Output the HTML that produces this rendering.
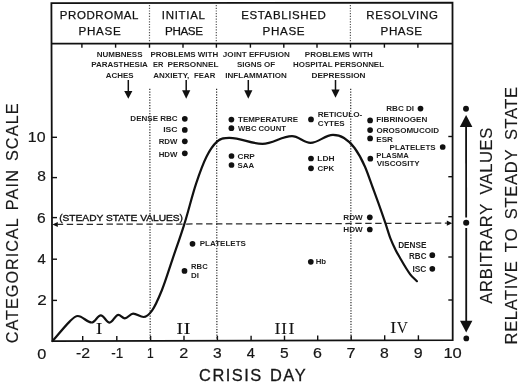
<!DOCTYPE html>
<html><head><meta charset="utf-8"><style>
html,body{margin:0;padding:0;background:#fff;}
body{width:520px;height:384px;overflow:hidden;font-family:"Liberation Sans",sans-serif;}
svg{display:block;will-change:transform;}
</style></head><body>
<svg width="520" height="384" viewBox="0 0 520 384">
<path d="M52.3,341.2 L51.4,3.1 L452.5,2.6 L452.7,340.2 Z" fill="none" stroke="#111" stroke-width="1.8"/>
<line x1="51.5" y1="43.7" x2="452.6" y2="43.6" stroke="#111" stroke-width="1.8" />
<line x1="81.9" y1="43.7" x2="81.9" y2="47.7" stroke="#111" stroke-width="1.4" />
<line x1="82.7" y1="341.12399999999997" x2="82.7" y2="336.12399999999997" stroke="#111" stroke-width="1.4" />
<line x1="115.6" y1="43.7" x2="115.6" y2="47.7" stroke="#111" stroke-width="1.4" />
<line x1="116.8" y1="341.03875" x2="116.8" y2="336.03875" stroke="#111" stroke-width="1.4" />
<line x1="149.5" y1="43.7" x2="149.5" y2="47.7" stroke="#111" stroke-width="1.4" />
<line x1="150.6" y1="340.95425" x2="150.6" y2="335.95425" stroke="#111" stroke-width="1.4" />
<line x1="183.0" y1="43.7" x2="183.0" y2="47.7" stroke="#111" stroke-width="1.4" />
<line x1="184.0" y1="340.87075" x2="184.0" y2="335.87075" stroke="#111" stroke-width="1.4" />
<line x1="216.4" y1="43.7" x2="216.4" y2="47.7" stroke="#111" stroke-width="1.4" />
<line x1="217.4" y1="340.78725" x2="217.4" y2="335.78725" stroke="#111" stroke-width="1.4" />
<line x1="250.4" y1="43.7" x2="250.4" y2="47.7" stroke="#111" stroke-width="1.4" />
<line x1="251.1" y1="340.703" x2="251.1" y2="335.703" stroke="#111" stroke-width="1.4" />
<line x1="283.8" y1="43.7" x2="283.8" y2="47.7" stroke="#111" stroke-width="1.4" />
<line x1="284.5" y1="340.6195" x2="284.5" y2="335.6195" stroke="#111" stroke-width="1.4" />
<line x1="317.0" y1="43.7" x2="317.0" y2="47.7" stroke="#111" stroke-width="1.4" />
<line x1="317.7" y1="340.5365" x2="317.7" y2="335.5365" stroke="#111" stroke-width="1.4" />
<line x1="350.5" y1="43.7" x2="350.5" y2="47.7" stroke="#111" stroke-width="1.4" />
<line x1="351.2" y1="340.45275" x2="351.2" y2="335.45275" stroke="#111" stroke-width="1.4" />
<line x1="384.4" y1="43.7" x2="384.4" y2="47.7" stroke="#111" stroke-width="1.4" />
<line x1="384.7" y1="340.36899999999997" x2="384.7" y2="335.36899999999997" stroke="#111" stroke-width="1.4" />
<line x1="417.9" y1="43.7" x2="417.9" y2="47.7" stroke="#111" stroke-width="1.4" />
<line x1="418.4" y1="340.28475" x2="418.4" y2="335.28475" stroke="#111" stroke-width="1.4" />
<line x1="52.0" y1="137.3" x2="57.0" y2="137.3" stroke="#111" stroke-width="1.4" />
<line x1="52.0" y1="177.6" x2="57.0" y2="177.6" stroke="#111" stroke-width="1.4" />
<line x1="52.0" y1="217.6" x2="57.0" y2="217.6" stroke="#111" stroke-width="1.4" />
<line x1="52.0" y1="259.2" x2="57.0" y2="259.2" stroke="#111" stroke-width="1.4" />
<line x1="52.0" y1="300.4" x2="57.0" y2="300.4" stroke="#111" stroke-width="1.4" />
<line x1="452.8" y1="136.5" x2="448.3" y2="136.5" stroke="#111" stroke-width="1.4" />
<line x1="452.8" y1="176.7" x2="448.3" y2="176.7" stroke="#111" stroke-width="1.4" />
<line x1="452.8" y1="216.7" x2="448.3" y2="216.7" stroke="#111" stroke-width="1.4" />
<line x1="452.8" y1="257.0" x2="448.3" y2="257.0" stroke="#111" stroke-width="1.4" />
<line x1="452.8" y1="300.0" x2="448.3" y2="300.0" stroke="#111" stroke-width="1.4" />
<line x1="149.5" y1="5.0" x2="149.5" y2="41.5" stroke="#555" stroke-width="1.2" stroke-dasharray="1.2 1.5"/>
<line x1="149.8" y1="88.8" x2="150.2" y2="340" stroke="#2a2a2a" stroke-width="1.2" stroke-dasharray="1.2 1.5"/>
<line x1="216.3" y1="5.0" x2="216.3" y2="41.5" stroke="#555" stroke-width="1.2" stroke-dasharray="1.2 1.5"/>
<line x1="216.60000000000002" y1="88.8" x2="216.9" y2="340" stroke="#2a2a2a" stroke-width="1.2" stroke-dasharray="1.2 1.5"/>
<line x1="350.4" y1="5.0" x2="350.4" y2="41.5" stroke="#555" stroke-width="1.2" stroke-dasharray="1.2 1.5"/>
<line x1="350.7" y1="88.8" x2="351.0" y2="340" stroke="#2a2a2a" stroke-width="1.2" stroke-dasharray="1.2 1.5"/>
<text x="59.80" y="19.40" font-family="Liberation Sans" font-weight="normal" font-size="11.48" textLength="78.61" lengthAdjust="spacing" fill="#111" stroke="#111" stroke-width="0.25" >PRODROMAL</text>
<text x="78.58" y="35.00" font-family="Liberation Sans" font-weight="normal" font-size="11.63" textLength="42.14" lengthAdjust="spacing" fill="#111" stroke="#111" stroke-width="0.25" >PHASE</text>
<text x="161.83" y="19.40" font-family="Liberation Sans" font-weight="normal" font-size="11.48" textLength="43.08" lengthAdjust="spacing" fill="#111" stroke="#111" stroke-width="0.25" >INITIAL</text>
<text x="165.08" y="35.00" font-family="Liberation Sans" font-weight="normal" font-size="11.63" textLength="37.89" lengthAdjust="spacing" fill="#111" stroke="#111" stroke-width="0.25" >PHASE</text>
<text x="241.18" y="19.40" font-family="Liberation Sans" font-weight="normal" font-size="11.48" textLength="84.70" lengthAdjust="spacing" fill="#111" stroke="#111" stroke-width="0.25" >ESTABLISHED</text>
<text x="262.59" y="35.00" font-family="Liberation Sans" font-weight="normal" font-size="11.63" textLength="41.94" lengthAdjust="spacing" fill="#111" stroke="#111" stroke-width="0.25" >PHASE</text>
<text x="366.18" y="19.40" font-family="Liberation Sans" font-weight="normal" font-size="11.48" textLength="71.74" lengthAdjust="spacing" fill="#111" stroke="#111" stroke-width="0.25" >RESOLVING</text>
<text x="380.60" y="35.00" font-family="Liberation Sans" font-weight="normal" font-size="11.63" textLength="41.52" lengthAdjust="spacing" fill="#111" stroke="#111" stroke-width="0.25" >PHASE</text>
<text x="96.67" y="57.10" font-family="Liberation Sans" font-weight="bold" font-size="7.70" textLength="45.84" lengthAdjust="spacingAndGlyphs" fill="#1e1e1e"  >NUMBNESS</text>
<text x="91.17" y="67.40" font-family="Liberation Sans" font-weight="bold" font-size="7.41" textLength="56.74" lengthAdjust="spacingAndGlyphs" fill="#1e1e1e"  >PARASTHESIA</text>
<text x="105.81" y="77.50" font-family="Liberation Sans" font-weight="bold" font-size="7.56" textLength="27.80" lengthAdjust="spacingAndGlyphs" fill="#1e1e1e"  >ACHES</text>
<text x="150.47" y="57.10" font-family="Liberation Sans" font-weight="bold" font-size="7.70" textLength="67.66" lengthAdjust="spacingAndGlyphs" fill="#1e1e1e"  >PROBLEMS WITH</text>
<text x="153.01" y="67.40" font-family="Liberation Sans" font-weight="bold" font-size="7.41" textLength="10.34" lengthAdjust="spacingAndGlyphs" fill="#1e1e1e"  >ER</text>
<text x="167.46" y="67.40" font-family="Liberation Sans" font-weight="bold" font-size="7.41" textLength="51.09" lengthAdjust="spacingAndGlyphs" fill="#1e1e1e"  >PERSONNEL</text>
<text x="153.31" y="77.50" font-family="Liberation Sans" font-weight="bold" font-size="7.56" textLength="36.03" lengthAdjust="spacingAndGlyphs" fill="#1e1e1e"  >ANXIETY,</text>
<text x="194.09" y="77.50" font-family="Liberation Sans" font-weight="bold" font-size="7.56" textLength="21.17" lengthAdjust="spacingAndGlyphs" fill="#1e1e1e"  >FEAR</text>
<text x="222.88" y="57.10" font-family="Liberation Sans" font-weight="bold" font-size="7.70" textLength="66.87" lengthAdjust="spacingAndGlyphs" fill="#1e1e1e"  >JOINT EFFUSION</text>
<text x="236.98" y="67.40" font-family="Liberation Sans" font-weight="bold" font-size="7.41" textLength="38.21" lengthAdjust="spacingAndGlyphs" fill="#1e1e1e"  >SIGNS OF</text>
<text x="225.27" y="77.50" font-family="Liberation Sans" font-weight="bold" font-size="7.56" textLength="61.58" lengthAdjust="spacingAndGlyphs" fill="#1e1e1e"  >INFLAMMATION</text>
<text x="304.87" y="57.10" font-family="Liberation Sans" font-weight="bold" font-size="7.70" textLength="67.97" lengthAdjust="spacingAndGlyphs" fill="#1e1e1e"  >PROBLEMS WITH</text>
<text x="292.98" y="67.40" font-family="Liberation Sans" font-weight="bold" font-size="7.41" textLength="91.06" lengthAdjust="spacingAndGlyphs" fill="#1e1e1e"  >HOSPITAL PERSONNEL</text>
<text x="311.56" y="77.50" font-family="Liberation Sans" font-weight="bold" font-size="7.56" textLength="54.00" lengthAdjust="spacingAndGlyphs" fill="#1e1e1e"  >DEPRESSION</text>
<line x1="128.3" y1="80.0" x2="128.3" y2="91.9" stroke="#111" stroke-width="1.5" />
<polygon points="124.20000000000002,90.9 132.4,90.9 128.3,98.8" fill="#111"/>
<line x1="186.2" y1="80.0" x2="186.2" y2="91.2" stroke="#111" stroke-width="1.5" />
<polygon points="182.1,90.2 190.29999999999998,90.2 186.2,98.7" fill="#111"/>
<line x1="248.3" y1="80.0" x2="248.3" y2="91.2" stroke="#111" stroke-width="1.5" />
<polygon points="244.20000000000002,90.2 252.4,90.2 248.3,98.7" fill="#111"/>
<line x1="335.5" y1="80.0" x2="335.5" y2="90.4" stroke="#111" stroke-width="1.5" />
<polygon points="331.4,89.4 339.6,89.4 335.5,97.8" fill="#111"/>
<text x="130.37" y="121.40" font-family="Liberation Sans" font-weight="bold" font-size="7.56" textLength="47.24" lengthAdjust="spacingAndGlyphs" fill="#1e1e1e"  >DENSE RBC</text>
<circle cx="184.8" cy="118.8" r="2.85" fill="#111"/>
<text x="163.23" y="131.90" font-family="Liberation Sans" font-weight="bold" font-size="7.70" textLength="14.40" lengthAdjust="spacingAndGlyphs" fill="#1e1e1e"  >ISC</text>
<circle cx="184.8" cy="129.9" r="2.85" fill="#111"/>
<text x="158.68" y="144.10" font-family="Liberation Sans" font-weight="bold" font-size="7.56" textLength="18.73" lengthAdjust="spacingAndGlyphs" fill="#1e1e1e"  >RDW</text>
<circle cx="184.8" cy="141.3" r="2.85" fill="#111"/>
<text x="158.68" y="156.70" font-family="Liberation Sans" font-weight="bold" font-size="7.70" textLength="18.73" lengthAdjust="spacingAndGlyphs" fill="#1e1e1e"  >HDW</text>
<circle cx="184.8" cy="153.3" r="2.85" fill="#111"/>
<text x="238.01" y="122.10" font-family="Liberation Sans" font-weight="bold" font-size="7.70" textLength="60.20" lengthAdjust="spacingAndGlyphs" fill="#1e1e1e"  >TEMPERATURE</text>
<circle cx="231.4" cy="119.6" r="2.85" fill="#111"/>
<text x="238.09" y="130.60" font-family="Liberation Sans" font-weight="bold" font-size="7.56" textLength="47.79" lengthAdjust="spacingAndGlyphs" fill="#1e1e1e"  >WBC COUNT</text>
<circle cx="231.4" cy="128.2" r="2.85" fill="#111"/>
<text x="237.46" y="158.50" font-family="Liberation Sans" font-weight="bold" font-size="7.41" textLength="17.42" lengthAdjust="spacingAndGlyphs" fill="#1e1e1e"  >CRP</text>
<circle cx="231.5" cy="156.0" r="2.85" fill="#111"/>
<text x="237.58" y="167.50" font-family="Liberation Sans" font-weight="bold" font-size="7.41" textLength="16.63" lengthAdjust="spacingAndGlyphs" fill="#1e1e1e"  >SAA</text>
<circle cx="231.5" cy="165.0" r="2.85" fill="#111"/>
<text x="317.66" y="117.10" font-family="Liberation Sans" font-weight="bold" font-size="6.98" textLength="44.67" lengthAdjust="spacingAndGlyphs" fill="#1e1e1e"  >RETICULO-</text>
<text x="317.87" y="125.60" font-family="Liberation Sans" font-weight="bold" font-size="7.27" textLength="26.84" lengthAdjust="spacingAndGlyphs" fill="#1e1e1e"  >CYTES</text>
<circle cx="311.0" cy="119.4" r="2.85" fill="#111"/>
<text x="317.34" y="161.40" font-family="Liberation Sans" font-weight="bold" font-size="7.56" textLength="17.32" lengthAdjust="spacingAndGlyphs" fill="#1e1e1e"  >LDH</text>
<circle cx="311.0" cy="158.5" r="2.85" fill="#111"/>
<text x="317.58" y="170.90" font-family="Liberation Sans" font-weight="bold" font-size="7.41" textLength="16.70" lengthAdjust="spacingAndGlyphs" fill="#1e1e1e"  >CPK</text>
<circle cx="311.0" cy="168.3" r="2.85" fill="#111"/>
<text x="386.27" y="111.30" font-family="Liberation Sans" font-weight="bold" font-size="7.12" textLength="27.87" lengthAdjust="spacingAndGlyphs" fill="#1e1e1e"  >RBC DI</text>
<circle cx="420.5" cy="108.6" r="2.85" fill="#111"/>
<text x="376.26" y="122.20" font-family="Liberation Sans" font-weight="bold" font-size="7.56" textLength="51.18" lengthAdjust="spacingAndGlyphs" fill="#1e1e1e"  >FIBRINOGEN</text>
<circle cx="370.1" cy="120.4" r="2.85" fill="#111"/>
<text x="376.47" y="133.10" font-family="Liberation Sans" font-weight="bold" font-size="7.85" textLength="62.56" lengthAdjust="spacingAndGlyphs" fill="#1e1e1e"  >OROSOMUCOID</text>
<circle cx="370.1" cy="130.1" r="2.85" fill="#111"/>
<text x="376.26" y="141.50" font-family="Liberation Sans" font-weight="bold" font-size="7.41" textLength="16.70" lengthAdjust="spacingAndGlyphs" fill="#1e1e1e"  >ESR</text>
<circle cx="370.1" cy="138.4" r="2.85" fill="#111"/>
<text x="389.57" y="149.60" font-family="Liberation Sans" font-weight="bold" font-size="7.70" textLength="46.14" lengthAdjust="spacingAndGlyphs" fill="#1e1e1e"  >PLATELETS</text>
<circle cx="442.7" cy="147.0" r="2.85" fill="#111"/>
<text x="376.29" y="157.60" font-family="Liberation Sans" font-weight="bold" font-size="7.41" textLength="32.51" lengthAdjust="spacingAndGlyphs" fill="#1e1e1e"  >PLASMA</text>
<text x="376.75" y="166.40" font-family="Liberation Sans" font-weight="bold" font-size="7.85" textLength="42.97" lengthAdjust="spacingAndGlyphs" fill="#1e1e1e"  >VISCOSITY</text>
<circle cx="370.3" cy="158.7" r="2.85" fill="#111"/>
<text x="199.77" y="246.30" font-family="Liberation Sans" font-weight="bold" font-size="7.41" textLength="46.14" lengthAdjust="spacingAndGlyphs" fill="#1e1e1e"  >PLATELETS</text>
<circle cx="192.5" cy="243.8" r="2.85" fill="#111"/>
<text x="191.09" y="269.20" font-family="Liberation Sans" font-weight="bold" font-size="7.56" textLength="16.62" lengthAdjust="spacingAndGlyphs" fill="#1e1e1e"  >RBC</text>
<text x="191.07" y="277.90" font-family="Liberation Sans" font-weight="bold" font-size="7.56" textLength="7.96" lengthAdjust="spacingAndGlyphs" fill="#1e1e1e"  >DI</text>
<circle cx="184.5" cy="270.9" r="2.85" fill="#111"/>
<text x="343.26" y="219.90" font-family="Liberation Sans" font-weight="bold" font-size="7.56" textLength="19.45" lengthAdjust="spacingAndGlyphs" fill="#1e1e1e"  >RDW</text>
<circle cx="369.8" cy="217.3" r="2.85" fill="#111"/>
<text x="343.26" y="232.30" font-family="Liberation Sans" font-weight="bold" font-size="7.85" textLength="19.45" lengthAdjust="spacingAndGlyphs" fill="#1e1e1e"  >HDW</text>
<circle cx="369.8" cy="229.5" r="2.85" fill="#111"/>
<text x="315.68" y="264.20" font-family="Liberation Sans" font-weight="bold" font-size="7.41" textLength="10.44" lengthAdjust="spacingAndGlyphs" fill="#1e1e1e"  >Hb</text>
<circle cx="310.8" cy="261.8" r="2.85" fill="#111"/>
<text x="398.16" y="248.30" font-family="Liberation Sans" font-weight="bold" font-size="8.28" textLength="28.37" lengthAdjust="spacingAndGlyphs" fill="#1e1e1e"  >DENSE</text>
<text x="409.07" y="258.80" font-family="Liberation Sans" font-weight="bold" font-size="8.14" textLength="17.35" lengthAdjust="spacingAndGlyphs" fill="#1e1e1e"  >RBC</text>
<circle cx="432.3" cy="255.2" r="2.85" fill="#111"/>
<text x="412.45" y="271.60" font-family="Liberation Sans" font-weight="bold" font-size="8.14" textLength="13.98" lengthAdjust="spacingAndGlyphs" fill="#1e1e1e"  >ISC</text>
<circle cx="432.3" cy="268.8" r="2.85" fill="#111"/>
<text x="59.17" y="221.00" font-family="Liberation Sans" font-weight="normal" font-size="9.74" textLength="123.86" lengthAdjust="spacingAndGlyphs" fill="#111" stroke="#111" stroke-width="0.35" >(STEADY STATE VALUES)</text>
<line x1="57.6" y1="224.4" x2="447" y2="223.2" stroke="#2a2a2a" stroke-width="1.25" stroke-dasharray="6.4 3.55" stroke-dashoffset="0.8"/>
<polygon points="52.4,224.5 57.8,221.9 57.8,227.1" fill="#111"/>
<polygon points="452.2,223.2 446.8,220.6 446.8,225.8" fill="#111"/>
<text x="95.67" y="334.00" font-family="Liberation Serif" font-weight="normal" font-size="16.64" textLength="6.74" lengthAdjust="spacingAndGlyphs" fill="#141414"  >I</text>
<text x="176.24" y="333.60" font-family="Liberation Serif" font-weight="normal" font-size="16.64" textLength="6.99" lengthAdjust="spacingAndGlyphs" fill="#141414"  >I</text>
<text x="183.53" y="333.60" font-family="Liberation Serif" font-weight="normal" font-size="16.64" textLength="7.12" lengthAdjust="spacingAndGlyphs" fill="#141414"  >I</text>
<text x="274.30" y="333.50" font-family="Liberation Serif" font-weight="normal" font-size="17.25" textLength="6.48" lengthAdjust="spacingAndGlyphs" fill="#141414"  >I</text>
<text x="281.14" y="333.50" font-family="Liberation Serif" font-weight="normal" font-size="17.25" textLength="6.10" lengthAdjust="spacingAndGlyphs" fill="#141414"  >I</text>
<text x="288.30" y="333.50" font-family="Liberation Serif" font-weight="normal" font-size="17.25" textLength="6.48" lengthAdjust="spacingAndGlyphs" fill="#141414"  >I</text>
<text x="389.90" y="333.20" font-family="Liberation Serif" font-weight="normal" font-size="17.10" textLength="6.48" lengthAdjust="spacingAndGlyphs" fill="#141414"  >I</text>
<text x="396.83" y="333.20" font-family="Liberation Serif" font-weight="normal" font-size="17.10" textLength="11.14" lengthAdjust="spacingAndGlyphs" fill="#141414"  >V</text>
<text x="37.36" y="358.50" font-family="Liberation Sans" font-weight="normal" font-size="14.97" textLength="9.06" lengthAdjust="spacingAndGlyphs" fill="#161616" stroke="#161616" stroke-width="0.2" >0</text>
<text x="76.10" y="357.90" font-family="Liberation Sans" font-weight="normal" font-size="13.95" textLength="14.09" lengthAdjust="spacingAndGlyphs" fill="#161616" stroke="#161616" stroke-width="0.2" >-2</text>
<text x="111.20" y="357.90" font-family="Liberation Sans" font-weight="normal" font-size="13.95" textLength="12.05" lengthAdjust="spacingAndGlyphs" fill="#161616" stroke="#161616" stroke-width="0.2" >-1</text>
<text x="146.89" y="357.90" font-family="Liberation Sans" font-weight="normal" font-size="13.95" textLength="6.69" lengthAdjust="spacingAndGlyphs" fill="#161616" stroke="#161616" stroke-width="0.2" >1</text>
<text x="179.29" y="357.90" font-family="Liberation Sans" font-weight="normal" font-size="13.95" textLength="9.03" lengthAdjust="spacingAndGlyphs" fill="#161616" stroke="#161616" stroke-width="0.2" >2</text>
<text x="212.91" y="357.90" font-family="Liberation Sans" font-weight="normal" font-size="13.95" textLength="8.66" lengthAdjust="spacingAndGlyphs" fill="#161616" stroke="#161616" stroke-width="0.2" >3</text>
<text x="246.88" y="357.90" font-family="Liberation Sans" font-weight="normal" font-size="13.95" textLength="8.15" lengthAdjust="spacingAndGlyphs" fill="#161616" stroke="#161616" stroke-width="0.2" >4</text>
<text x="279.98" y="357.90" font-family="Liberation Sans" font-weight="normal" font-size="13.95" textLength="8.66" lengthAdjust="spacingAndGlyphs" fill="#161616" stroke="#161616" stroke-width="0.2" >5</text>
<text x="313.00" y="357.90" font-family="Liberation Sans" font-weight="normal" font-size="13.95" textLength="8.89" lengthAdjust="spacingAndGlyphs" fill="#161616" stroke="#161616" stroke-width="0.2" >6</text>
<text x="346.47" y="357.90" font-family="Liberation Sans" font-weight="normal" font-size="13.95" textLength="9.05" lengthAdjust="spacingAndGlyphs" fill="#161616" stroke="#161616" stroke-width="0.2" >7</text>
<text x="380.12" y="357.90" font-family="Liberation Sans" font-weight="normal" font-size="13.95" textLength="8.76" lengthAdjust="spacingAndGlyphs" fill="#161616" stroke="#161616" stroke-width="0.2" >8</text>
<text x="413.76" y="357.90" font-family="Liberation Sans" font-weight="normal" font-size="13.95" textLength="8.89" lengthAdjust="spacingAndGlyphs" fill="#161616" stroke="#161616" stroke-width="0.2" >9</text>
<text x="443.44" y="357.90" font-family="Liberation Sans" font-weight="normal" font-size="13.95" textLength="18.39" lengthAdjust="spacingAndGlyphs" fill="#161616" stroke="#161616" stroke-width="0.2" >10</text>
<text x="27.79" y="142.20" font-family="Liberation Sans" font-weight="normal" font-size="14.97" textLength="17.72" lengthAdjust="spacingAndGlyphs" fill="#161616" stroke="#161616" stroke-width="0.2" >10</text>
<text x="37.23" y="181.20" font-family="Liberation Sans" font-weight="normal" font-size="14.53" textLength="8.64" lengthAdjust="spacingAndGlyphs" fill="#161616" stroke="#161616" stroke-width="0.2" >8</text>
<text x="37.12" y="222.80" font-family="Liberation Sans" font-weight="normal" font-size="15.12" textLength="8.65" lengthAdjust="spacingAndGlyphs" fill="#161616" stroke="#161616" stroke-width="0.2" >6</text>
<text x="37.57" y="263.60" font-family="Liberation Sans" font-weight="normal" font-size="14.10" textLength="8.26" lengthAdjust="spacingAndGlyphs" fill="#161616" stroke="#161616" stroke-width="0.2" >4</text>
<text x="37.24" y="305.30" font-family="Liberation Sans" font-weight="normal" font-size="14.24" textLength="9.51" lengthAdjust="spacingAndGlyphs" fill="#161616" stroke="#161616" stroke-width="0.2" >2</text>
<text x="199.07" y="380.50" font-family="Liberation Sans" font-weight="normal" font-size="16.42" textLength="62.07" lengthAdjust="spacing" fill="#161616" stroke="#161616" stroke-width="0.3" >CRISIS</text>
<text x="269.92" y="380.50" font-family="Liberation Sans" font-weight="normal" font-size="16.42" textLength="35.67" lengthAdjust="spacing" fill="#161616" stroke="#161616" stroke-width="0.3" >DAY</text>
<text transform="translate(17.60,343.18) rotate(-90)" x="0" y="0" font-family="Liberation Sans" font-weight="normal" font-size="16.28" textLength="124.86" lengthAdjust="spacing" fill="#1a1a1a" stroke="#1a1a1a" stroke-width="0.15">CATEGORICAL</text>
<text transform="translate(17.60,210.36) rotate(-90)" x="0" y="0" font-family="Liberation Sans" font-weight="normal" font-size="16.28" textLength="40.30" lengthAdjust="spacing" fill="#1a1a1a" stroke="#1a1a1a" stroke-width="0.15">PAIN</text>
<text transform="translate(17.60,161.09) rotate(-90)" x="0" y="0" font-family="Liberation Sans" font-weight="normal" font-size="16.28" textLength="57.74" lengthAdjust="spacing" fill="#1a1a1a" stroke="#1a1a1a" stroke-width="0.15">SCALE</text>
<text transform="translate(492.40,303.74) rotate(-90)" x="0" y="0" font-family="Liberation Sans" font-weight="normal" font-size="16.57" textLength="100.02" lengthAdjust="spacing" fill="#1a1a1a" stroke="#1a1a1a" stroke-width="0.15">ARBITRARY</text>
<text transform="translate(492.40,194.57) rotate(-90)" x="0" y="0" font-family="Liberation Sans" font-weight="normal" font-size="16.57" textLength="66.85" lengthAdjust="spacing" fill="#1a1a1a" stroke="#1a1a1a" stroke-width="0.15">VALUES</text>
<text transform="translate(516.60,344.43) rotate(-90)" x="0" y="0" font-family="Liberation Sans" font-weight="normal" font-size="16.57" textLength="83.26" lengthAdjust="spacing" fill="#1a1a1a" stroke="#1a1a1a" stroke-width="0.15">RELATIVE</text>
<text transform="translate(516.60,252.29) rotate(-90)" x="0" y="0" font-family="Liberation Sans" font-weight="normal" font-size="16.57" textLength="24.02" lengthAdjust="spacing" fill="#1a1a1a" stroke="#1a1a1a" stroke-width="0.15">TO</text>
<text transform="translate(516.60,219.28) rotate(-90)" x="0" y="0" font-family="Liberation Sans" font-weight="normal" font-size="16.57" textLength="69.77" lengthAdjust="spacing" fill="#1a1a1a" stroke="#1a1a1a" stroke-width="0.15">STEADY</text>
<text transform="translate(516.60,140.03) rotate(-90)" x="0" y="0" font-family="Liberation Sans" font-weight="normal" font-size="16.57" textLength="53.00" lengthAdjust="spacing" fill="#1a1a1a" stroke="#1a1a1a" stroke-width="0.15">STATE</text>
<line x1="466.1" y1="125" x2="466.15" y2="217.4" stroke="#111" stroke-width="1.8" />
<line x1="466.2" y1="227.9" x2="466.25" y2="322" stroke="#111" stroke-width="1.8" />
<polygon points="466.1,115.0 459.8,127.0 472.4,127.0" fill="#111"/>
<polygon points="466.2,332.4 460.0,320.8 472.4,320.8" fill="#111"/>
<circle cx="466.0" cy="108.7" r="2.95" fill="#111"/>
<circle cx="466.2" cy="222.7" r="3.05" fill="#111"/>
<circle cx="466.3" cy="338.4" r="2.85" fill="#111"/>
<path d="M52.6,341.0 C58.27,334.54 63.93,327.27 69.6,321.6 C72.33,318.87 74.85,316.00 77.8,316.0 C82.80,316.00 86.70,322.50 91.7,322.5 C94.98,322.50 97.52,315.40 100.8,315.4 C103.97,315.40 106.43,322.60 109.6,322.6 C112.77,322.60 115.23,314.80 118.4,314.8 C120.70,314.80 122.50,318.30 124.8,318.3 C127.79,318.30 130.11,313.60 133.1,313.6 C136.88,313.60 139.82,317.00 143.6,317.0 C146.62,317.00 149.20,314.42 152.0,310.6 C155.25,306.17 158.50,298.50 161.75,290.5 C165.40,281.51 169.05,269.33 172.7,258.6 C176.63,247.04 180.57,236.22 184.5,223.6 C188.37,211.19 192.23,195.17 196.1,183.6 C199.60,173.12 203.10,163.51 206.6,156.5 C210.07,149.55 213.53,144.78 217.0,141.6 C221.17,137.78 225.00,137.90 229.5,137.9 C241.38,137.90 250.62,143.80 262.5,143.8 C273.12,143.80 281.38,136.20 292.0,136.2 C298.66,136.20 303.84,142.90 310.5,142.9 C318.60,142.90 324.90,134.90 333.0,134.9 C336.96,134.90 340.33,135.73 344.0,138.0 C347.53,140.19 351.07,143.13 354.6,148.0 C358.07,152.77 361.53,158.75 365.0,166.75 C367.63,172.83 370.27,180.84 372.9,188.0 C374.80,193.16 376.70,198.27 378.6,203.6 C380.87,209.95 383.13,216.46 385.4,223.2 C387.07,228.16 388.73,234.01 390.4,238.4 C392.13,242.97 393.87,246.42 395.6,249.9 C397.33,253.37 399.07,256.23 400.8,259.25 C402.53,262.27 404.27,265.26 406.0,268.0 C407.40,270.21 408.80,272.45 410.2,274.3 C412.43,277.25 414.67,278.90 416.9,281.2" fill="none" stroke="#111" stroke-width="2.2" stroke-linecap="round" stroke-linejoin="round"/>
</svg>
</body></html>
